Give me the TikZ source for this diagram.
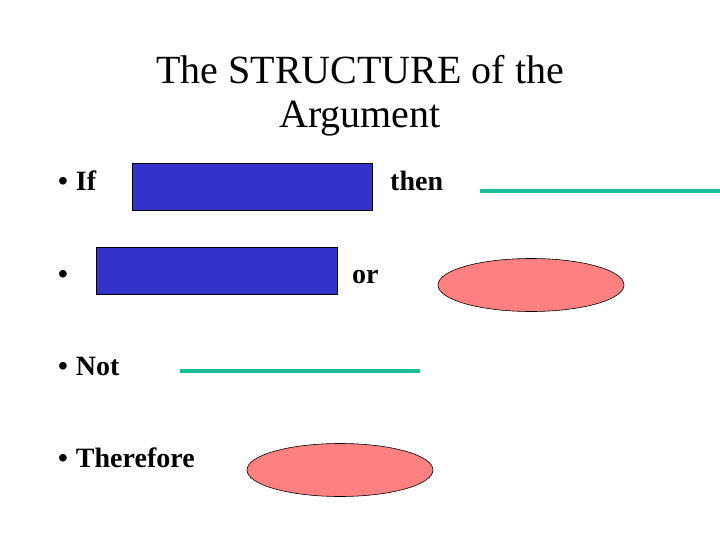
\documentclass[tikz,border=0pt]{standalone}
\usepackage{fontspec}
\setmainfont{Liberation Serif}
\usetikzlibrary{shapes.geometric}
\definecolor{boxblue}{RGB}{51,51,204}
\definecolor{teal2}{RGB}{26,190,150}
\definecolor{pinkfill}{RGB}{255,128,128}
\begin{document}
\begin{tikzpicture}[x=1pt,y=-1pt,
  title/.style={font=\fontsize{40}{44}\selectfont, align=center},
  item/.style={font=\fontsize{28}{32}\selectfont\bfseries, anchor=base west, inner sep=0},
  bluebox/.style={draw=black, fill=boxblue, line width=0.6pt},
  blank/.style={draw=teal2, line width=4pt},
  oval/.style={draw=black, fill=pinkfill, ellipse, line width=0.6pt, minimum width=186pt, minimum height=53pt, inner sep=0}]
\useasboundingbox (0,0) rectangle (720,540);
\node[title] (t) at (360,96) {The STRUCTURE of the\\Argument};
\node[item] (b1) at (58,191) {•\hspace{8pt}If};
\node[item] (then) at (390,191) {then};
\node[item] (b2) at (58,283) {•};
\node[item] (or) at (352,283) {or};
\node[item] (b3) at (58,375) {•\hspace{8pt}Not};
\node[item] (b4) at (58,467) {•\hspace{8pt}Therefore};
\path[bluebox] (132,163) rectangle (372,210);
\path[bluebox] (96,247) rectangle (337,294);
\coordinate (l1a) at (480,191); \coordinate (l1b) at (720,191);
\coordinate (l2a) at (180,371); \coordinate (l2b) at (420,371);
\draw[blank] (l1a) -- (l1b);
\draw[blank] (l2a) -- (l2b);
\node[oval] (e1) at (531,285) {};
\node[oval] (e2) at (340,470) {};
\end{tikzpicture}
\end{document}
